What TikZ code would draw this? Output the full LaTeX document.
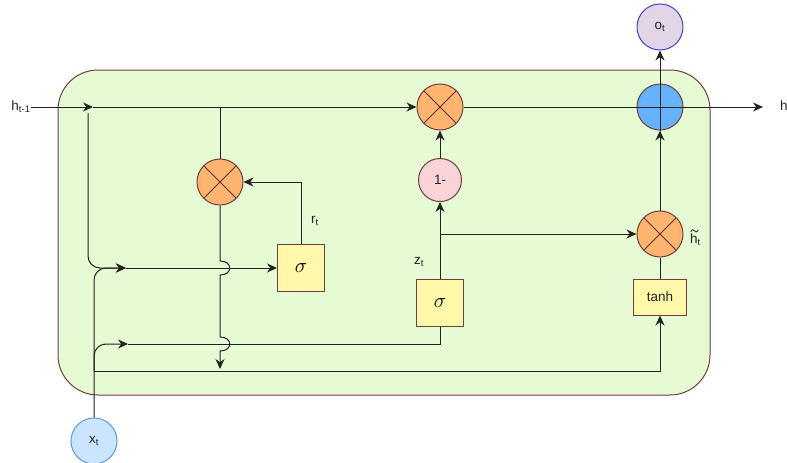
\documentclass[tikz,border=0pt]{standalone}
\usepackage{fontspec}
\setmainfont{Liberation Sans}
\usetikzlibrary{arrows.meta}
\definecolor{bggreen}{HTML}{E6FBD3}
\definecolor{brd}{HTML}{6E3F3F}
\definecolor{orng}{HTML}{FFB570}
\definecolor{pinkc}{HTML}{FAD3D6}
\definecolor{bluec}{HTML}{66B2FF}
\definecolor{lav}{HTML}{E1D5E7}
\definecolor{lavbrd}{HTML}{4A3FD0}
\definecolor{xtfill}{HTML}{CCE5FF}
\definecolor{xtbrd}{HTML}{5B9BD5}
\definecolor{yel}{HTML}{FFF8A8}
\definecolor{ln}{HTML}{222222}
\tikzset{
  conn/.style={draw=ln, line width=1pt},
  arr/.style={conn, -{Stealth[length=10pt,width=9pt]}},
  txt/.style={font=\fontsize{13.5}{15}\selectfont, text=ln, inner sep=0pt},
  mulx/.style={circle, draw=brd, fill=orng, line width=1pt, minimum size=46pt, inner sep=0pt,
    path picture={\draw[line width=1pt, draw=brd!80!black] (path picture bounding box.north west) -- (path picture bounding box.south east)
      (path picture bounding box.north east) -- (path picture bounding box.south west);}},
  gatebox/.style={draw=brd, fill=yel, line width=1pt, minimum width=47pt, minimum height=47pt, inner sep=0pt,
    font=\fontsize{22}{24}\selectfont},
}
\begin{document}
\begin{tikzpicture}[x=1pt,y=-1pt]
\useasboundingbox (0,0) rectangle (787,463);
% cell
\draw[draw=brd, fill=bggreen, line width=1pt, rounded corners=40pt] (58,70) rectangle (710,395);

% nodes
\node[txt] (hprev) at (21,107) {h\textsubscript{t-1}};
\node[txt, anchor=west] (hnext) at (780,107) {h\textsubscript{t}};
\node[mulx] (mul1) at (220,182) {};
\node[mulx] (mul2) at (440,107) {};
\node[mulx] (mul3) at (660,234) {};
\node[circle, draw=brd, fill=pinkc, line width=1pt, minimum size=43pt, inner sep=0pt, txt] (one) at (440,180) {1-};
\node[circle, draw=brd, fill=bluec, line width=1pt, minimum size=46pt, inner sep=0pt] (plus) at (660,107) {};
\node[circle, draw=lavbrd, fill=lav, line width=1pt, minimum size=46pt, inner sep=0pt, txt] (ot) at (660,27) {o\textsubscript{t}};
\node[circle, draw=xtbrd, fill=xtfill, line width=1pt, minimum size=46pt, inner sep=0pt, txt] (xt) at (94,441) {x\textsubscript{t}};
\node[gatebox] (sig1) at (301,268) {$\sigma$};
\node[gatebox] (sig2) at (440,303) {$\sigma$};
\node[draw=brd, fill=yel, line width=1pt, minimum width=53pt, minimum height=36pt, inner sep=0pt, txt] (tanh) at (660,297) {tanh};

% labels
\node[txt] (rt) at (315,221) {r\textsubscript{t}};
\node[txt] (zt) at (419,262) {z\textsubscript{t}};
\node[txt, anchor=base west] (ht) at (690,243) {h\textsubscript{t}};
\draw[draw=ln, line width=0.8pt] (690.8,231.8) .. controls (692,229) and (693.5,229.3) .. (694.5,230.8)
  .. controls (695.5,232.3) and (697,232.6) .. (698.2,229.8);

% coordinates
\coordinate (s1) at (93,107);
\coordinate (j1) at (126,268);
\coordinate (j2) at (128,344);
\coordinate (b1) at (94,371);
\coordinate (hend) at (763,107);

% h_{t-1} path
\draw[arr] (hprev.east) -- (s1);
\draw[arr] (s1) -- (mul2.west);
\draw[arr, rounded corners=12pt] (88,113) -- (88,268) -- (j1);
\draw[conn] (220,107) -- (mul1.north);
\draw[arr] (mul1.south) -- (220,261) .. controls (233,261) and (233,275) .. (220,275)
  -- (220,337) .. controls (233,337) and (233,351) .. (220,351) -- (220,369);

% x_t paths
\draw[arr, rounded corners=12pt] (xt.north) -- (94,268) -- (j1);
\draw[arr] (j1) -- (sig1.west);
\draw[arr, rounded corners=12pt] (b1) -- (94,344) -- (j2);
\draw[conn] (j2) -- (440,344) -- (sig2.south);
\draw[arr] (b1) -- (660,371) -- (tanh.south);

% gates
\draw[arr] (sig1.north) -- (301,182) -- (mul1.east);
\draw[arr] (sig2.north) -- (one.south);
\draw[arr] (440,234) -- (mul3.west);
\draw[arr] (one.north) -- (mul2.south);
\draw[conn] (tanh.north) -- (mul3.south);
\draw[arr] (mul3.north) -- (plus.south);
\draw[arr] (mul2.east) -- (hend);
\draw[arr] (plus.south) -- (ot.south);
\end{tikzpicture}
\end{document}
